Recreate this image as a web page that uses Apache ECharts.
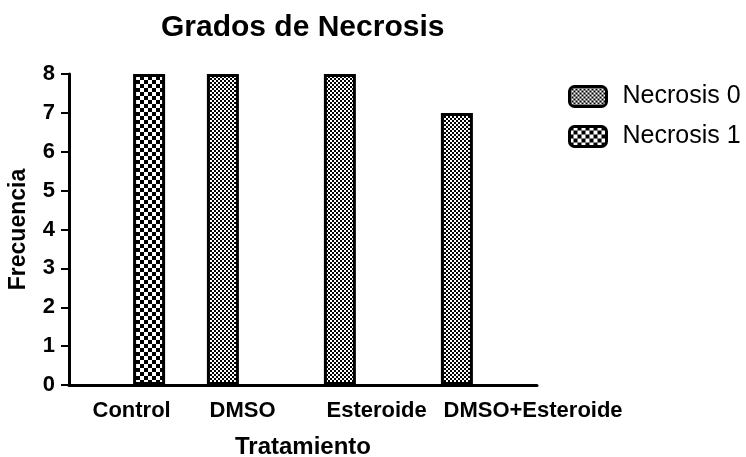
<!DOCTYPE html>
<html><head><meta charset="utf-8">
<script src="https://cdn.jsdelivr.net/npm/echarts@6/dist/echarts.min.js"></script>
<style>html,body{margin:0;padding:0;background:#fff}#c{width:746px;height:457px}</style>
</head><body><div id="c"></div>
<script>
var categories = ['Control', 'DMSO', 'Esteroide', 'DMSO+Esteroide'];
var necrosis0 = [0, 8, 8, 7];
var necrosis1 = [8, 0, 0, 0];
var seriesNames = ['Necrosis 0', 'Necrosis 1'];
var yTicks = [0, 1, 2, 3, 4, 5, 6, 7, 8];

function checker(sq) {
  var c = document.createElement('canvas');
  c.width = sq * 2; c.height = sq * 2;
  var g = c.getContext('2d');
  g.fillStyle = '#fff'; g.fillRect(0, 0, sq * 2, sq * 2);
  g.fillStyle = '#000';
  g.fillRect(0, 0, sq, sq); g.fillRect(sq, sq, sq, sq);
  return c;
}
var pat0 = { image: checker(2), repeat: 'repeat' };
var pat1 = { image: checker(4), repeat: 'repeat' };
function noZero(arr) { return arr.map(function (v) { return v === 0 ? '-' : v; }); }

var font = 'Liberation Sans, Arial, sans-serif';
var chart = echarts.init(document.getElementById('c'));
chart.setOption({
  animation: false,
  title: {
    text: 'Grados de Necrosis', left: 156, top: 8,
    textStyle: { fontFamily: font, fontSize: 30, fontWeight: 'bold', color: '#000' }
  },
  legend: {
    orient: 'vertical', left: 568, top: 84, padding: 0, itemWidth: 37, itemHeight: 20, itemGap: 15,
    data: seriesNames,
    itemStyle: { borderColor: '#000', borderWidth: 3 },
    textStyle: { fontFamily: font, fontSize: 25, color: '#000', lineHeight: 20, padding: [0, 0, 0, 11] }
  },
  grid: [
    { left: 69, right: 209, top: 74, bottom: 72, outerBoundsMode: 'none', containLabel: false },
    { left: 34, right: 244, top: 74, bottom: 72, outerBoundsMode: 'none', containLabel: false }
  ],
  xAxis: [{
    type: 'category', data: categories, gridIndex: 0,
    name: 'Tratamiento', nameLocation: 'middle', nameGap: 50,
    nameTextStyle: { fontFamily: font, fontSize: 24, fontWeight: 'bold', color: '#000' },
    axisLine: { lineStyle: { color: '#000', width: 3 } },
    axisTick: { alignWithLabel: true, length: 8, lineStyle: { color: '#000', width: 2 } },
    axisLabel: { show: false }
  }, {
    type: 'category', data: categories, gridIndex: 1,
    axisLine: { show: false }, axisTick: { show: false },
    axisLabel: { interval: 0, align: 'left', margin: 15, fontFamily: font, fontSize: 22, fontWeight: 'bold', color: '#000' }
  }],
  yAxis: [{
    type: 'value', min: 0, max: 8, interval: 1, gridIndex: 0,
    name: 'Frecuencia', nameLocation: 'middle', nameGap: 39, nameMoveOverlap: false,
    nameTextStyle: { fontFamily: font, fontSize: 23, fontWeight: 'bold', color: '#000' },
    axisLine: { show: true, lineStyle: { color: '#000', width: 3 } },
    axisTick: { show: true, length: 8, lineStyle: { color: '#000', width: 2 } },
    axisLabel: { margin: 14, fontFamily: font, fontSize: 22, fontWeight: 'bold', color: '#000',
      formatter: function (v) { return yTicks.indexOf(v) >= 0 ? String(v) : ''; } },
    splitLine: { show: false }
  }, {
    type: 'value', gridIndex: 1, show: false, min: 0, max: 8
  }],
  series: [{
    name: seriesNames[0], type: 'bar', data: noZero(necrosis0), xAxisIndex: 0, yAxisIndex: 0,
    barWidth: 32, barGap: '35%',
    itemStyle: { color: pat0, borderColor: '#000', borderWidth: 3 }
  }, {
    name: seriesNames[1], type: 'bar', data: noZero(necrosis1), xAxisIndex: 0, yAxisIndex: 0,
    barWidth: 32, barGap: '35%',
    itemStyle: { color: pat1, borderColor: '#000', borderWidth: 3 }
  }]
});
</script>
</body></html>
